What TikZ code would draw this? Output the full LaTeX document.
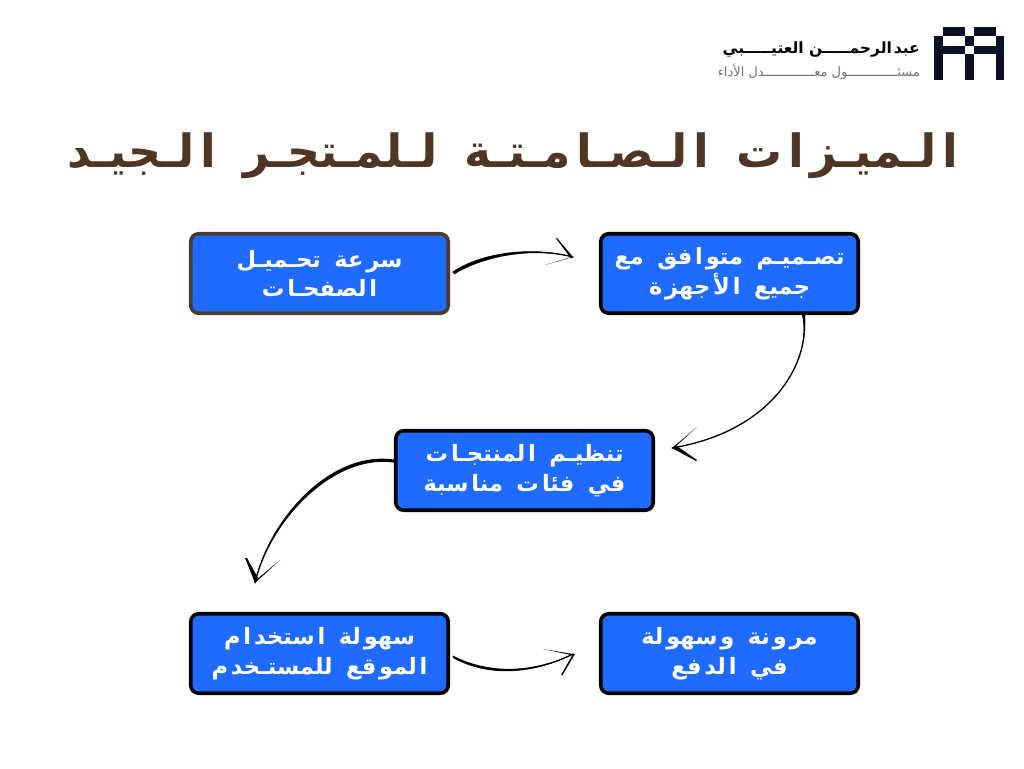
\documentclass[tikz,border=0pt]{standalone}
\usepackage{fontspec}
\TeXXeTstate=1
\newfontfamily\arb[Script=Arabic]{DejaVu Sans}
\newfontfamily\arbx[Script=Arabic]{DejaVu Sans Bold}
\newcommand\rl[1]{\beginR #1\endR}
\newcommand\gp{\kern.13em}
\newcommand\wsp{\hspace{.6em}}
\definecolor{boxblue}{HTML}{1F6BFF}
\definecolor{titlebrown}{HTML}{4F3524}
\definecolor{edgebrown}{HTML}{4A3A30}
\definecolor{logoink}{HTML}{0E0F26}
\tikzset{
  card/.style={draw=black,fill=boxblue,line width=3.6pt,rounded corners=8pt,minimum width=257.5pt,minimum height=79.5pt,inner sep=0pt,align=center,text=white,font=\arbx\fontsize{22.5}{29.5}\selectfont},
  link/.style={draw=black,line width=1.3pt,line cap=round},
  taper/.style={fill=black,draw=none},
  logoblock/.style={fill=logoink,draw=none},
}
\begin{document}
\begin{tikzpicture}[x=1pt,y=-1pt]
\useasboundingbox (0,0) rectangle (1024,768);
\fill[white] (0,0) rectangle (1024,768);

% title
\node[inner sep=0pt,text=titlebrown,font=\arbx\fontsize{45.8}{56}\selectfont] (title) at (513,156)
 {\rl{ا\gp لـميـز\gp ا\gp ت\wsp ا\gp لـصـا\gp مـتـة\wsp لـلمـتجـر\wsp ا\gp لـجيـد}};

% logo text
\node[inner sep=0pt,text=black,anchor=east,font=\arbx\fontsize{15.5}{20}\selectfont] (logoa) at (920,50)
 {\rl{عبد\gp الرحمـــــن العتيـــــبي}};
\node[inner sep=0pt,text=black!55,anchor=east,font=\arb\fontsize{13}{16}\selectfont] (logob) at (920,72)
 {\rl{مسئـــــــــــــول معـــــــــــــدل الأداء}};

% logo blocks
\fill[logoblock] (943,27) rectangle (965,36);
\fill[logoblock] (974,27) rectangle (996,36);
\fill[logoblock] (934,36) rectangle (943,80);
\fill[logoblock] (996,36) rectangle (1004,80);
\fill[logoblock] (943,46) rectangle (965,54);
\fill[logoblock] (974,46) rectangle (996,54);
\fill[logoblock] (965,36) rectangle (974,46);
\fill[logoblock] (965,54) rectangle (974,80);

% cards
\node[card,draw=edgebrown] (speed) at (319.5,273.5)
 {\rl{سر\gp عة\wsp تحـميـل}\\\rl{ا\gp لصفحـا\gp ت}};
\node[card] (design) at (729.5,273.5)
 {\rl{تصـميـم\wsp متو\gp ا\gp فق\wsp مع}\\\rl{جميع\wsp ا\gp لأ\gp جهز\gp ة}};
\node[card] (sort) at (524.5,470.5)
 {\rl{تنظيـم\wsp ا\gp لمنتجـا\gp ت}\\\rl{في\wsp فئا\gp ت\wsp منا\gp سبة}};
\node[card] (use) at (319.5,653.5)
 {\rl{سهو\gp لة\wsp ا\gp ستخد\gp ا\gp م}\\\rl{ا\gp لمو\gp قع\wsp للمستـخد\gp م}};
\node[card] (pay) at (729.5,653.5)
 {\rl{مر\gp و\gp نة\wsp و\gp سهو\gp لة}\\\rl{في\wsp ا\gp لد\gp فع}};

% connector ends
\coordinate (tipa) at (573,257);
\coordinate (tipb) at (672,448);
\coordinate (tipc) at (255,583);
\coordinate (tipd) at (573,654);

% tapered bodies
\fill[taper] (453,271.5) .. controls (480,253) and (530,245) .. (tipa) .. controls (530,247) and (482,257) .. (454,274.5) -- cycle;
\fill[taper] (802,315) .. controls (812,360) and (775,430) .. (tipb) .. controls (773,432) and (809,362) .. (805,315) -- cycle;
\fill[taper] (394,459.5) .. controls (330,450) and (268,520) .. (tipc) .. controls (270,522) and (332,454) .. (394,462.5) -- cycle;
\fill[taper] (453,655.5) .. controls (490,675) and (535,672) .. (tipd) .. controls (535,674) and (490,678) .. (454,658.5) -- cycle;

% connectors
\draw[link] (speed.east) ++(3,-1) .. controls (481,255) and (530,246) .. (tipa);
\draw[link] (design.south) ++(74,0) .. controls (811,361) and (774,431) .. (tipb);
\draw[link] (sort.west) ++(0,-9) .. controls (331,452) and (269,521) .. (tipc);
\draw[link] (use.east) ++(3,3.5) .. controls (490,676) and (535,673) .. (tipd);

% arrowheads
\fill[taper] (tipa) -- (557,238) -- (556,238.5) -- (571,258.5) -- cycle;
\fill[taper] (tipa) -- (545,265) -- (571.5,257) -- cycle;
\fill[taper] (tipb) -- (697,427) -- (675,447) -- cycle;
\fill[taper] (tipb) -- (696,461) -- (697,460) -- (676,445.5) -- cycle;
\fill[taper] (tipc) -- (245,558) -- (247,558) -- (258,578) -- cycle;
\fill[taper] (tipc) -- (280,560) -- (256,580) -- cycle;
\fill[taper] (tipd) -- (543,649) -- (571,655) -- cycle;
\fill[taper] (tipd) -- (561,675) -- (562.5,675) -- (575,654) -- cycle;
\end{tikzpicture}
\end{document}
